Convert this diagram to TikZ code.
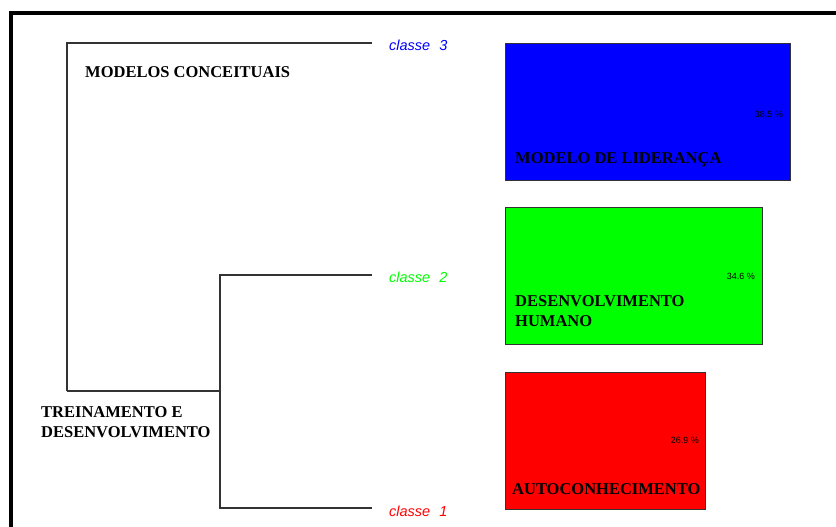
\documentclass[tikz,border=0pt]{standalone}
\usepackage{fontspec}
\setmainfont{Liberation Serif}
\setsansfont{Liberation Sans}
\begin{document}
\begin{tikzpicture}[x=1pt,y=-1pt,
  tree/.style={draw=black!80, line width=1.1pt},
  frameline/.style={draw=black, line width=4pt},
  classbox/.style={draw=black!80, line width=1pt, anchor=north west, inner sep=0pt},
  boldlabel/.style={font=\fontsize{16.5}{20}\selectfont\bfseries, inner sep=0pt, anchor=west, align=left},
  classlabel/.style={font=\sffamily\itshape\fontsize{14.5}{16}\selectfont, inner sep=0pt, anchor=west},
  pct/.style={font=\sffamily\fontsize{9}{10}\selectfont, text=black, inner sep=0pt, anchor=east}]
\useasboundingbox (0,0) rectangle (836,527);

% outer frame (top and left edges)
\coordinate (fa) at (11,527);
\coordinate (fb) at (11,13);
\coordinate (fc) at (836,13);
\draw[frameline] (fa) -- (fb) -- (fc);

% dendrogram joints and leaf ends
\coordinate (root)  at (67,391);
\coordinate (top)   at (67,43);
\coordinate (leaf3) at (372,43);
\coordinate (sub)   at (220,391);
\coordinate (subt)  at (220,275);
\coordinate (subb)  at (220,508);
\coordinate (leaf2) at (372,275);
\coordinate (leaf1) at (372,508);

\draw[tree] (root) -- (top) -- (leaf3);
\draw[tree] (root) -- (sub);
\draw[tree] (leaf2) -- (subt) -- (subb) -- (leaf1);

% class labels
\node[classlabel, text=blue]  (c3) at (389,45)  {classe\hspace{9pt}3};
\node[classlabel, text=green] (c2) at (389,277) {classe\hspace{9pt}2};
\node[classlabel, text=red]   (c1) at (389,511) {classe\hspace{9pt}1};

% branch labels
\node[boldlabel] (mc) at (85,72) {MODELOS CONCEITUAIS};
\node[boldlabel] (td) at (41,422) {TREINAMENTO E\\DESENVOLVIMENTO};

% class bars
\node[classbox, fill=blue,  minimum width=285, minimum height=137] (b3) at (505,43) {};
\node[classbox, fill=green, minimum width=257, minimum height=137] (b2) at (505,207) {};
\node[classbox, fill=red,   minimum width=200, minimum height=137] (b1) at (505,372) {};

% percentages
\node[pct] (p3) at (783,114) {38.5 \%};
\node[pct] (p2) at (755,276) {34.6 \%};
\node[pct] (p1) at (699,440) {26.9 \%};

% bar titles
\node[boldlabel] (t3) at (515,160) {MODELO DE LIDERANÇA};
\node[boldlabel] (t2) at (515,311) {DESENVOLVIMENTO\\HUMANO};
\node[boldlabel] (t1) at (512,489) {AUTOCONHECIMENTO};
\end{tikzpicture}
\end{document}
